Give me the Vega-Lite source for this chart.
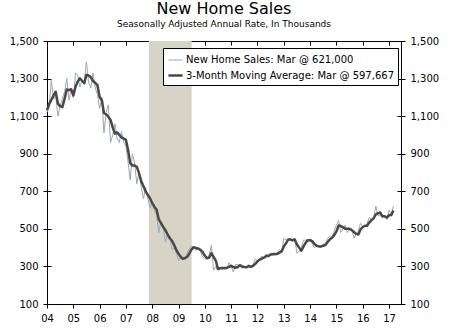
{
  "$schema": "https://vega.github.io/schema/vega-lite/v6.json",
  "width": 354,
  "height": 263,
  "autosize": {"type": "none"},
  "padding": {"left": 47, "top": 41, "right": 49, "bottom": 29},
  "background": "white",
  "config": {
    "font": "DejaVu Sans",
    "view": {"stroke": "black", "strokeWidth": 1},
    "axis": {"labelFont": "DejaVu Sans", "labelFontSize": 10, "labelColor": "black", "domainColor": "black", "tickColor": "black", "tickSize": 4, "title": null}
  },
  "title": {
    "text": "New Home Sales",
    "subtitle": "Seasonally Adjusted Annual Rate, In Thousands",
    "fontSize": 16,
    "fontWeight": "normal",
    "color": "black",
    "subtitleFontSize": 9,
    "subtitleColor": "black",
    "subtitlePadding": 3,
    "anchor": "middle",
    "offset": 7
  },
  "datasets": {
    "sales": [
      {"d":"2004-01","s":1120,"a":1132},{"d":"2004-02","s":1150,"a":1165},{"d":"2004-03","s":1290,"a":1186.7},{"d":"2004-04","s":1190,"a":1210},{"d":"2004-05","s":1210,"a":1230},{"d":"2004-06","s":1100,"a":1166.7},{"d":"2004-07","s":1150,"a":1153.3},{"d":"2004-08","s":1195,"a":1148.3},{"d":"2004-09","s":1230,"a":1191.7},{"d":"2004-10","s":1300,"a":1241.7},{"d":"2004-11","s":1185,"a":1238.3},{"d":"2004-12","s":1245,"a":1243.3},
      {"d":"2005-01","s":1200,"a":1210},{"d":"2005-02","s":1330,"a":1258.3},{"d":"2005-03","s":1320,"a":1283.3},{"d":"2005-04","s":1255,"a":1301.7},{"d":"2005-05","s":1290,"a":1288.3},{"d":"2005-06","s":1280,"a":1275},{"d":"2005-07","s":1389,"a":1319.7},{"d":"2005-08","s":1280,"a":1316.3},{"d":"2005-09","s":1250,"a":1306.3},{"d":"2005-10","s":1330,"a":1286.7},{"d":"2005-11","s":1250,"a":1276.7},{"d":"2005-12","s":1215,"a":1265},
      {"d":"2006-01","s":1140,"a":1201.7},{"d":"2006-02","s":1200,"a":1185},{"d":"2006-03","s":1010,"a":1116.7},{"d":"2006-04","s":1120,"a":1110},{"d":"2006-05","s":1160,"a":1096.7},{"d":"2006-06","s":960,"a":1080},{"d":"2006-07","s":1000,"a":1040},{"d":"2006-08","s":1060,"a":1006.7},{"d":"2006-09","s":980,"a":1013.3},{"d":"2006-10","s":960,"a":1000},{"d":"2006-11","s":1020,"a":986.7},{"d":"2006-12","s":960,"a":980},
      {"d":"2007-01","s":940,"a":973.3},{"d":"2007-02","s":850,"a":916.7},{"d":"2007-03","s":760,"a":850},{"d":"2007-04","s":900,"a":836.7},{"d":"2007-05","s":850,"a":836.7},{"d":"2007-06","s":740,"a":830},{"d":"2007-07","s":800,"a":796.7},{"d":"2007-08","s":720,"a":753.3},{"d":"2007-09","s":660,"a":726.7},{"d":"2007-10","s":720,"a":700},{"d":"2007-11","s":660,"a":680},{"d":"2007-12","s":610,"a":663.3},
      {"d":"2008-01","s":640,"a":636.7},{"d":"2008-02","s":600,"a":616.7},{"d":"2008-03","s":570,"a":603.3},{"d":"2008-04","s":480,"a":550},{"d":"2008-05","s":540,"a":530},{"d":"2008-06","s":510,"a":510},{"d":"2008-07","s":430,"a":493.3},{"d":"2008-08","s":470,"a":470},{"d":"2008-09","s":450,"a":450},{"d":"2008-10","s":390,"a":436.7},{"d":"2008-11","s":400,"a":413.3},{"d":"2008-12","s":370,"a":386.7},
      {"d":"2009-01","s":330,"a":366.7},{"d":"2009-02","s":350,"a":350},{"d":"2009-03","s":340,"a":340},{"d":"2009-04","s":345,"a":345},{"d":"2009-05","s":370,"a":351.7},{"d":"2009-06","s":395,"a":370},{"d":"2009-07","s":410,"a":391.7},{"d":"2009-08","s":400,"a":401.7},{"d":"2009-09","s":385,"a":398.3},{"d":"2009-10","s":400,"a":395},{"d":"2009-11","s":380,"a":388.3},{"d":"2009-12","s":350,"a":376.7},
      {"d":"2010-01","s":340,"a":356.7},{"d":"2010-02","s":340,"a":343.3},{"d":"2010-03","s":360,"a":346.7},{"d":"2010-04","s":414,"a":371.3},{"d":"2010-05","s":280,"a":351.3},{"d":"2010-06","s":300,"a":331.3},{"d":"2010-07","s":280,"a":286.7},{"d":"2010-08","s":290,"a":290},{"d":"2010-09","s":300,"a":290},{"d":"2010-10","s":285,"a":291.7},{"d":"2010-11","s":290,"a":291.7},{"d":"2010-12","s":320,"a":298.3},
      {"d":"2011-01","s":300,"a":303.3},{"d":"2011-02","s":270,"a":296.7},{"d":"2011-03","s":310,"a":293.3},{"d":"2011-04","s":310,"a":296.7},{"d":"2011-05","s":300,"a":306.7},{"d":"2011-06","s":290,"a":300},{"d":"2011-07","s":300,"a":296.7},{"d":"2011-08","s":295,"a":295},{"d":"2011-09","s":310,"a":301.7},{"d":"2011-10","s":290,"a":298.3},{"d":"2011-11","s":310,"a":303.3},{"d":"2011-12","s":340,"a":313.3},
      {"d":"2012-01","s":330,"a":326.7},{"d":"2012-02","s":340,"a":336.7},{"d":"2012-03","s":355,"a":341.7},{"d":"2012-04","s":345,"a":346.7},{"d":"2012-05","s":365,"a":355},{"d":"2012-06","s":355,"a":355},{"d":"2012-07","s":370,"a":363.3},{"d":"2012-08","s":370,"a":365},{"d":"2012-09","s":360,"a":366.7},{"d":"2012-10","s":370,"a":366.7},{"d":"2012-11","s":390,"a":373.3},{"d":"2012-12","s":380,"a":380},
      {"d":"2013-01","s":450,"a":406.7},{"d":"2013-02","s":440,"a":423.3},{"d":"2013-03","s":440,"a":443.3},{"d":"2013-04","s":450,"a":443.3},{"d":"2013-05","s":430,"a":440},{"d":"2013-06","s":450,"a":443.3},{"d":"2013-07","s":370,"a":416.7},{"d":"2013-08","s":380,"a":400},{"d":"2013-09","s":400,"a":383.3},{"d":"2013-10","s":440,"a":406.7},{"d":"2013-11","s":440,"a":426.7},{"d":"2013-12","s":440,"a":440},
      {"d":"2014-01","s":440,"a":440},{"d":"2014-02","s":420,"a":433.3},{"d":"2014-03","s":400,"a":420},{"d":"2014-04","s":410,"a":410},{"d":"2014-05","s":410,"a":406.7},{"d":"2014-06","s":400,"a":406.7},{"d":"2014-07","s":420,"a":410},{"d":"2014-08","s":420,"a":413.3},{"d":"2014-09","s":450,"a":430},{"d":"2014-10","s":460,"a":443.3},{"d":"2014-11","s":450,"a":453.3},{"d":"2014-12","s":490,"a":466.7},
      {"d":"2015-01","s":520,"a":486.7},{"d":"2015-02","s":545,"a":518.3},{"d":"2015-03","s":480,"a":515},{"d":"2015-04","s":500,"a":508.3},{"d":"2015-05","s":520,"a":500},{"d":"2015-06","s":480,"a":500},{"d":"2015-07","s":500,"a":500},{"d":"2015-08","s":500,"a":493.3},{"d":"2015-09","s":450,"a":483.3},{"d":"2015-10","s":470,"a":473.3},{"d":"2015-11","s":490,"a":470},{"d":"2015-12","s":530,"a":496.7},
      {"d":"2016-01","s":510,"a":510},{"d":"2016-02","s":510,"a":516.7},{"d":"2016-03","s":530,"a":516.7},{"d":"2016-04","s":560,"a":533.3},{"d":"2016-05","s":550,"a":546.7},{"d":"2016-06","s":560,"a":556.7},{"d":"2016-07","s":620,"a":576.7},{"d":"2016-08","s":570,"a":583.3},{"d":"2016-09","s":570,"a":586.7},{"d":"2016-10","s":560,"a":566.7},{"d":"2016-11","s":570,"a":566.7},{"d":"2016-12","s":550,"a":560},
      {"d":"2017-01","s":599,"a":573},{"d":"2017-02","s":573,"a":574},{"d":"2017-03","s":621,"a":597.7}
    ],
    "recession": [{"start": "2007-11-15", "end": "2009-07-01"}]
  },
  "layer": [
    {
      "data": {"name": "recession"},
      "mark": {"type": "rect", "color": "#d7d3c7"},
      "encoding": {
        "x": {"field": "start", "type": "temporal", "scale": {"type": "utc", "domain": ["2004-01-01", "2017-06-15"]}, "axis": {"format": "%y", "tickCount": {"interval": "year", "step": 1}, "labelOverlap": false, "labelFlush": false, "labelPadding": 5, "grid": true, "gridDash": [4, 2000], "gridColor": "black", "gridOpacity": 1}},
        "x2": {"field": "end"}
      }
    },
    {
      "data": {"name": "sales"},
      "transform": [{"fold": ["s", "a"], "as": ["series", "value"]}],
      "mark": {"type": "line", "strokeJoin": "round"},
      "encoding": {
        "x": {"field": "d", "type": "temporal"},
        "y": {"field": "value", "type": "quantitative", "scale": {"domain": [100, 1500], "nice": false, "zero": false}, "axis": {"orient": "left", "values": [100, 300, 500, 700, 900, 1100, 1300, 1500], "format": ",.0f", "labelPadding": 5, "grid": true, "gridDash": [4, 2000], "gridColor": "black", "gridOpacity": 1}},
        "color": {"field": "series", "type": "nominal", "scale": {"domain": ["s", "a"], "range": ["#93aac0", "#4e4640"]}, "legend": {"title": null, "orient": "none", "legendX": 116, "legendY": 7, "strokeColor": "black", "fillColor": "white", "padding": 4, "rowPadding": 2, "labelFontSize": 10, "labelFont": "DejaVu Sans", "labelColor": "black", "labelLimit": 0, "labelOffset": 2, "symbolType": "stroke", "symbolSize": 200, "labelExpr": "datum.value == 's' ? 'New Home Sales: Mar @ 621,000' : '3-Month Moving Average: Mar @ 597,667'"}},
        "strokeWidth": {"field": "series", "type": "nominal", "scale": {"domain": ["s", "a"], "range": [1, 2.5]}, "legend": {"title": null, "orient": "none", "legendX": 116, "legendY": 7, "strokeColor": "black", "fillColor": "white", "padding": 4, "rowPadding": 2, "labelFontSize": 10, "labelFont": "DejaVu Sans", "labelColor": "black", "labelLimit": 0, "labelOffset": 2, "symbolType": "stroke", "symbolSize": 200, "labelExpr": "datum.value == 's' ? 'New Home Sales: Mar @ 621,000' : '3-Month Moving Average: Mar @ 597,667'"}}
      }
    },
    {
      "data": {"values": [{"v": 100}]},
      "mark": {"type": "rule", "opacity": 0},
      "encoding": {
        "y": {"field": "v", "type": "quantitative", "scale": {"domain": [100, 1500], "nice": false, "zero": false}, "axis": {"orient": "right", "values": [100, 300, 500, 700, 900, 1100, 1300, 1500], "format": ",.0f", "labelPadding": 5, "grid": true, "gridDash": [4, 2000], "gridColor": "black", "gridOpacity": 1}}
      }
    }
  ],
  "resolve": {"scale": {"y": "independent"}, "axis": {"y": "independent"}}
}
